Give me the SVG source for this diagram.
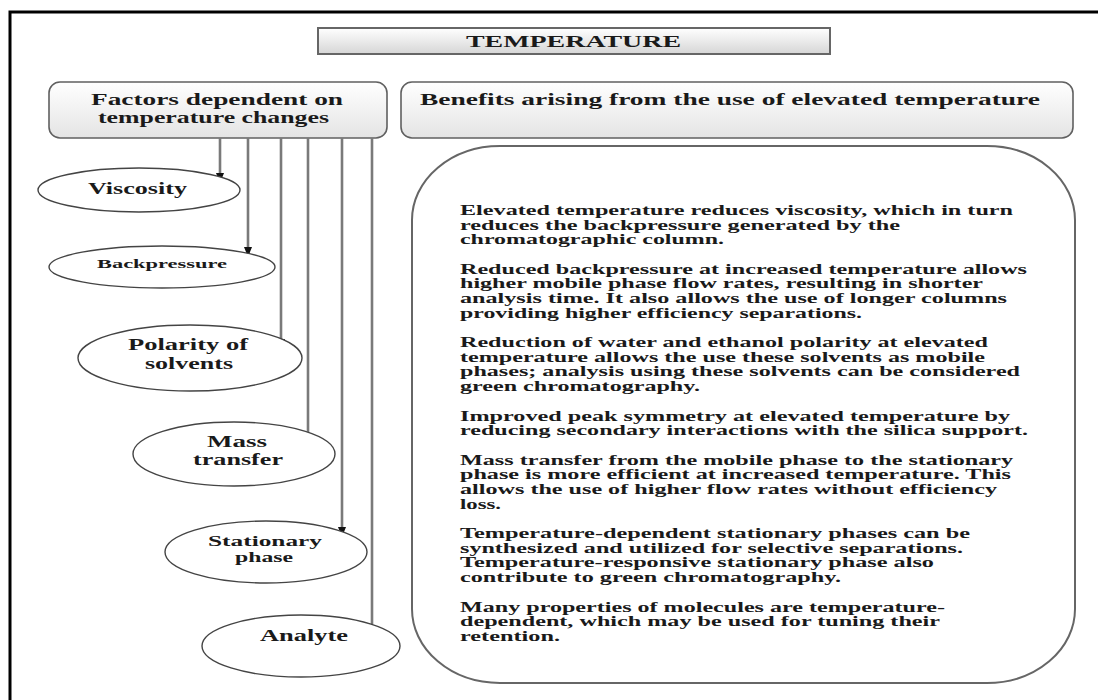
<svg xmlns="http://www.w3.org/2000/svg" width="1098" height="700" viewBox="0 0 1098 700">
<defs>
<linearGradient id="gBox" x1="0" y1="0" x2="0" y2="1">
<stop offset="0" stop-color="#ffffff"/>
<stop offset="1" stop-color="#e4e4e4"/>
</linearGradient>
<linearGradient id="gTitle" x1="0" y1="0" x2="0" y2="1">
<stop offset="0" stop-color="#ffffff"/>
<stop offset="1" stop-color="#d6d6d6"/>
</linearGradient>
<marker id="ah" viewBox="0 0 10 8" refX="10" refY="4" markerWidth="10" markerHeight="8" orient="auto" markerUnits="userSpaceOnUse">
<path d="M0,0 L10,4 L0,8 z" fill="#111"/>
</marker>
<style>
.t{font-family:"Liberation Serif","Times New Roman",serif;font-weight:bold;fill:#1a1a1a;}
.body{font-size:14px;}
.lbl{font-size:16.5px;}
.hdr{font-size:17px;}
.box{stroke:#606060;stroke-width:1.6;fill:url(#gBox);}
.ell{stroke:#444;stroke-width:1.4;fill:#fff;}
.con{stroke:#7a7a7a;stroke-width:2.6;fill:none;}
</style>
</defs>
<rect x="0" y="0" width="1098" height="700" fill="#fff"/>
<path d="M10,700 V12 H1098" fill="none" stroke="#000" stroke-width="3"/>

<g id="title">
<rect x="318" y="28" width="512" height="26" fill="url(#gTitle)" stroke="#666" stroke-width="2"/>
<text class="t" x="466" y="47" font-size="16" textLength="215" lengthAdjust="spacingAndGlyphs">TEMPERATURE</text>
</g>

<g id="factors">
<rect class="box" x="49" y="82" width="338" height="56" rx="11" ry="11"/>
<text class="t hdr" x="91" y="105" textLength="252" lengthAdjust="spacingAndGlyphs">Factors dependent on</text>
<text class="t hdr" x="98" y="123" textLength="231" lengthAdjust="spacingAndGlyphs">temperature changes</text>
</g>

<g id="benefits">
<rect class="box" x="401" y="82" width="672" height="56" rx="11" ry="11"/>
<text class="t hdr" x="420" y="105" textLength="620" lengthAdjust="spacingAndGlyphs">Benefits arising from the use of elevated temperature</text>
</g>

<g id="connectors">
<line class="con" x1="220" y1="138" x2="220" y2="183" marker-end="url(#ah)"/>
<line class="con" x1="248" y1="138" x2="248" y2="257" marker-end="url(#ah)"/>
<line class="con" x1="281" y1="138" x2="281" y2="349" marker-end="url(#ah)"/>
<line class="con" x1="308" y1="138" x2="308" y2="443" marker-end="url(#ah)"/>
<line class="con" x1="342" y1="138" x2="342" y2="537" marker-end="url(#ah)"/>
<line class="con" x1="372" y1="138" x2="372" y2="624"/>
</g>

<g id="viscosity">
<ellipse class="ell" cx="139" cy="190" rx="101" ry="22"/>
<text class="t lbl" x="88" y="194" textLength="99" lengthAdjust="spacingAndGlyphs">Viscosity</text>
</g>
<g id="backpressure">
<ellipse class="ell" cx="162" cy="267" rx="113" ry="21"/>
<text class="t" font-size="13.5" x="97" y="268" textLength="130" lengthAdjust="spacingAndGlyphs">Backpressure</text>
</g>
<g id="polarity">
<ellipse class="ell" cx="190" cy="358" rx="112" ry="33"/>
<text class="t" font-size="16" x="128" y="350" textLength="120" lengthAdjust="spacingAndGlyphs">Polarity of</text>
<text class="t" font-size="16" x="145" y="369" textLength="88" lengthAdjust="spacingAndGlyphs">solvents</text>
</g>
<g id="masstransfer">
<ellipse class="ell" cx="234" cy="454" rx="101" ry="32"/>
<text class="t lbl" x="207" y="447" textLength="60" lengthAdjust="spacingAndGlyphs">Mass</text>
<text class="t lbl" x="193" y="465" textLength="90" lengthAdjust="spacingAndGlyphs">transfer</text>
</g>
<g id="stationary">
<ellipse class="ell" cx="266" cy="552" rx="101" ry="31"/>
<text class="t" font-size="15" x="208" y="546" textLength="114" lengthAdjust="spacingAndGlyphs">Stationary</text>
<text class="t" font-size="15" x="235" y="562" textLength="58" lengthAdjust="spacingAndGlyphs">phase</text>
</g>
<g id="analyte">
<ellipse class="ell" cx="301" cy="646" rx="99" ry="31"/>
<text class="t lbl" x="260" y="641" textLength="88" lengthAdjust="spacingAndGlyphs">Analyte</text>
</g>

<g id="benefits-list">
<rect x="412" y="146" width="663" height="537" rx="88" ry="74" fill="#fff" stroke="#666" stroke-width="2"/>
<g class="t body">
<text x="460" y="215" textLength="553" lengthAdjust="spacingAndGlyphs">Elevated temperature reduces viscosity, which in turn</text>
<text x="460" y="229.6" textLength="440" lengthAdjust="spacingAndGlyphs">reduces the backpressure generated by the</text>
<text x="460" y="244.2" textLength="264" lengthAdjust="spacingAndGlyphs">chromatographic column.</text>
<text x="460" y="273.8" textLength="567" lengthAdjust="spacingAndGlyphs">Reduced backpressure at increased temperature allows</text>
<text x="460" y="288.4" textLength="523" lengthAdjust="spacingAndGlyphs">higher mobile phase flow rates, resulting in shorter</text>
<text x="460" y="303" textLength="547" lengthAdjust="spacingAndGlyphs">analysis time. It also allows the use of longer columns</text>
<text x="460" y="317.6" textLength="402" lengthAdjust="spacingAndGlyphs">providing higher efficiency separations.</text>
<text x="460" y="347.2" textLength="528" lengthAdjust="spacingAndGlyphs">Reduction of water and ethanol polarity at elevated</text>
<text x="460" y="361.8" textLength="525" lengthAdjust="spacingAndGlyphs">temperature allows the use these solvents as mobile</text>
<text x="460" y="376.4" textLength="560" lengthAdjust="spacingAndGlyphs">phases; analysis using these solvents can be considered</text>
<text x="460" y="391" textLength="240" lengthAdjust="spacingAndGlyphs">green chromatography.</text>
<text x="460" y="420.6" textLength="550" lengthAdjust="spacingAndGlyphs">Improved peak symmetry at elevated temperature by</text>
<text x="460" y="435.2" textLength="568" lengthAdjust="spacingAndGlyphs">reducing secondary interactions with the silica support.</text>
<text x="460" y="464.8" textLength="553" lengthAdjust="spacingAndGlyphs">Mass transfer from the mobile phase to the stationary</text>
<text x="460" y="479.4" textLength="551" lengthAdjust="spacingAndGlyphs">phase is more efficient at increased temperature. This</text>
<text x="460" y="494" textLength="537" lengthAdjust="spacingAndGlyphs">allows the use of higher flow rates without efficiency</text>
<text x="460" y="508.6" textLength="41" lengthAdjust="spacingAndGlyphs">loss.</text>
<text x="460" y="538.2" textLength="510" lengthAdjust="spacingAndGlyphs">Temperature-dependent stationary phases can be</text>
<text x="460" y="552.8" textLength="503" lengthAdjust="spacingAndGlyphs">synthesized and utilized for selective separations.</text>
<text x="460" y="567.4" textLength="474" lengthAdjust="spacingAndGlyphs">Temperature-responsive stationary phase also</text>
<text x="460" y="582" textLength="381" lengthAdjust="spacingAndGlyphs">contribute to green chromatography.</text>
<text x="460" y="611.6" textLength="485" lengthAdjust="spacingAndGlyphs">Many properties of molecules are temperature-</text>
<text x="460" y="626.2" textLength="480" lengthAdjust="spacingAndGlyphs">dependent, which may be used for tuning their</text>
<text x="460" y="640.8" textLength="100" lengthAdjust="spacingAndGlyphs">retention.</text>
</g>
</g>
</svg>
